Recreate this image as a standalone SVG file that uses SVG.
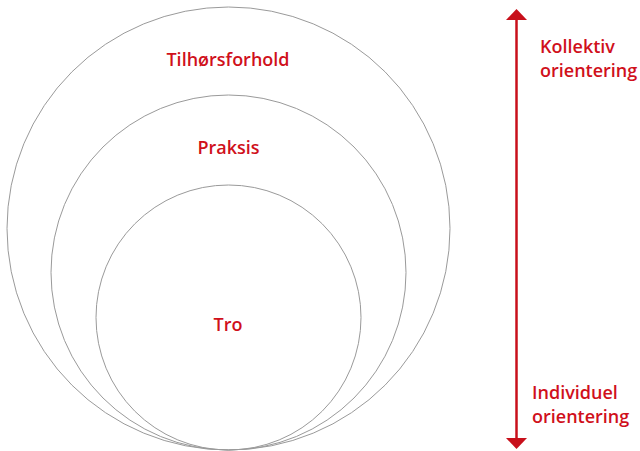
<svg xmlns="http://www.w3.org/2000/svg" width="640" height="451" viewBox="0 0 640 451">
<style>
.c{fill:none;stroke:#9a9a9a;stroke-width:1}
.t{font-family:"Open Sans","Liberation Sans",sans-serif;font-weight:600;font-size:18px;fill:#d0101b}
.m{text-anchor:middle}
.a{stroke:#c8101b;stroke-width:2.5;fill:none}
</style>
<g id="tilhorsforhold">
<circle class="c" cx="228.5" cy="228.5" r="221.5"/>
<text class="t m" x="228" y="66">Tilhørsforhold</text>
</g>
<g id="praksis">
<circle class="c" cx="228.5" cy="272.5" r="177.5"/>
<text class="t m" x="228.5" y="154">Praksis</text>
</g>
<g id="tro">
<circle class="c" cx="228.5" cy="317.5" r="132.5"/>
<text class="t m" x="228" y="331">Tro</text>
</g>
<g id="connectors">
<line class="a" x1="516.5" y1="20" x2="516.5" y2="438"/>
<path d="M516.5,9 L527,20 L506,20 z" fill="#c8101b"/>
<path d="M516.5,449 L527,438 L506,438 z" fill="#c8101b"/>
</g>
<g id="kollektiv">
<text class="t" x="540" y="53">Kollektiv</text>
<text class="t" x="540" y="77">orientering</text>
</g>
<g id="individuel">
<text class="t" x="532" y="399">Individuel</text>
<text class="t" x="532" y="423">orientering</text>
</g>
</svg>
